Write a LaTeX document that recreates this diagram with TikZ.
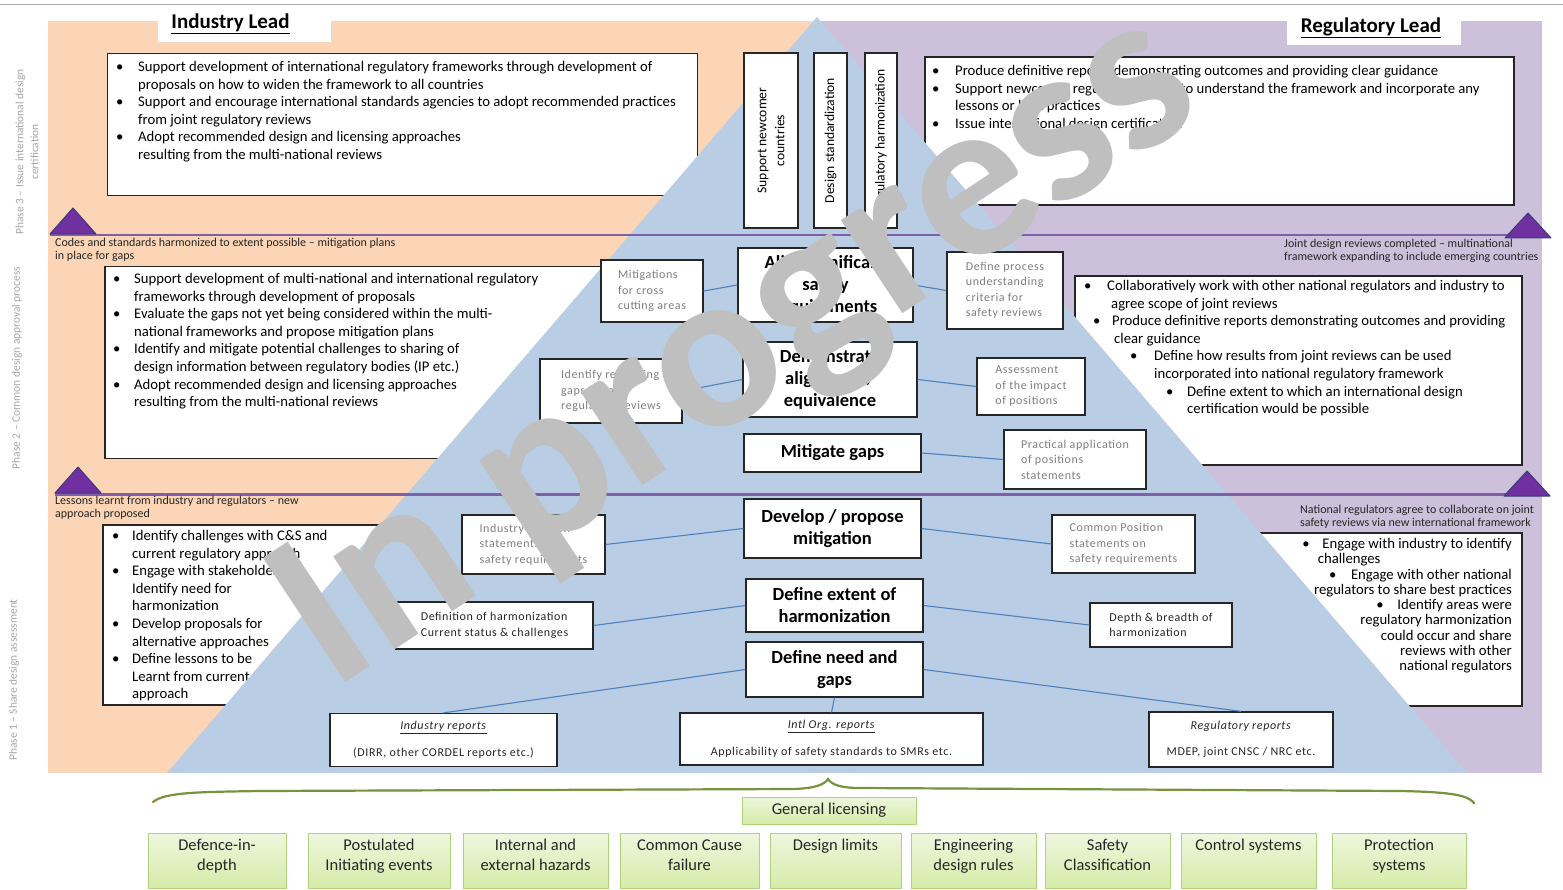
\documentclass[tikz,border=0pt]{standalone}
\usepackage{fontspec}
\setmainfont{Carlito}
\newfontfamily\spacedfont{Carlito}[LetterSpace=5.0]

\definecolor{orangebg}{HTML}{FBD5B5}
\definecolor{purplebg}{HTML}{CCC0DA}
\definecolor{bluetri}{HTML}{B9CDE5}
\definecolor{sepline}{HTML}{7F5FAA}
\definecolor{marker}{HTML}{7030A0}
\definecolor{markeredge}{HTML}{3B3B7A}
\definecolor{linkblue}{HTML}{4F81BD}
\definecolor{greenbrace}{HTML}{77933C}
\definecolor{greentop}{HTML}{EEF6DD}
\definecolor{greenbot}{HTML}{D5EBA8}
\definecolor{greenedge}{HTML}{AFD27C}
\definecolor{graytext}{HTML}{7F7F7F}
\definecolor{darktext}{HTML}{262626}
\definecolor{phasegray}{HTML}{A6A6A6}
\definecolor{wmgray}{HTML}{BFBFBF}

% bullet with fixed hanging width, and plain indent
\newcommand\blt[1][21pt]{\makebox[#1][l]{\textbullet}}
\newcommand\idt[1][21pt]{\hspace*{#1}}

\newcommand\bodysize{\fontsize{14.7}{17.6}\selectfont}
\newcommand\labelsize{\fontsize{18.5}{22}\selectfont\bfseries}
\newcommand\notesize{\spacedfont\fontsize{12}{15.5}\selectfont}
\newcommand\annosize{\fontsize{12}{13}\selectfont}
\newcommand\greensize{\fontsize{16.5}{20}\selectfont}
\newcommand\phasesize{\fontsize{11.4}{15}\selectfont}
\newcommand\headsize{\fontsize{21}{24}\selectfont\bfseries}
\newcommand\vertsize{\fontsize{13.6}{18}\selectfont}
\newcommand\wmsize{\fontsize{230}{240}\selectfont\bfseries}

\begin{document}
\begin{tikzpicture}[x=1pt,y=-1pt,
  bigbox/.style={draw=black!85, line width=1.4pt, fill=white, inner sep=0pt},
  midbox/.style={draw=black!85, line width=1.4pt, fill=white, inner sep=2pt, align=center, font=\labelsize},
  notebox/.style={draw=black!85, line width=1.3pt, fill=white, inner sep=2pt, align=left, font=\notesize, text=graytext},
  darknote/.style={notebox, text=darktext},
  reportbox/.style={draw=black!85, line width=1.3pt, fill=white, inner sep=2pt, align=center, font=\notesize, text=darktext},
  vertbox/.style={draw=black!85, line width=1.3pt, fill=white, inner sep=2pt, align=center, font=\vertsize, rotate=90},
  link/.style={draw=linkblue, line width=1.1pt},
  greenbox/.style={draw=greenedge, line width=1pt, top color=greentop, bottom color=greenbot, inner sep=0pt},
  bodytext/.style={anchor=base west, inner sep=0pt, font=\bodysize, text=black},
  annot/.style={anchor=base west, inner sep=0pt, font=\annosize, text=darktext},
  phase/.style={rotate=90, font=\phasesize, text=phasegray, align=center, inner sep=0pt},
  marktri/.style={fill=marker, draw=markeredge, line width=1pt, line join=round}
]
\useasboundingbox (0,0) rectangle (1563,890);
\fill[white] (0,0) rectangle (1563,890);

% frame line along the top
\draw[gray!65, line width=1.6pt] (0,4.5) -- (1563,4.5);

% lead areas
\fill[orangebg] (48,21) rectangle (817,773);
\fill[purplebg] (817,21) rectangle (1542,773);

% headers
\node[fill=white, minimum width=173pt, minimum height=32pt, inner sep=0pt] (indHeadBox) at (244.5,26) {};
\node[font=\headsize, inner sep=0pt] (indHead) at (230.5,24) {\underline{Industry Lead}};
\node[fill=white, minimum width=174pt, minimum height=35pt, inner sep=0pt] (regHeadBox) at (1374,27.5) {};
\node[font=\headsize, inner sep=0pt] (regHead) at (1371,28) {\underline{Regulatory Lead}};

% phase labels
\node[phase] (ph3) at (27,152) {Phase 3 – Issue international design\\certification};
\node[phase] (ph2) at (17,368) {Phase 2 – Common design approval process};
\node[phase] (ph1) at (14,680) {Phase 1 – Share design assessment};

% ---------- phase 3 lists ----------
\node[bigbox, minimum width=590pt, minimum height=142pt] (p3L) at (402.5,124.5) {};
\node[bodytext] (p3Ltext) at (116,71.5) {\begin{tabular}[t]{@{}l@{}}
\blt[22pt]Support development of international regulatory frameworks through development of\\
\idt[22pt]proposals on how to widen the framework to all countries\\
\blt[22pt]Support and encourage international standards agencies to adopt recommended practices\\
\idt[22pt]from joint regulatory reviews\\
\blt[22pt]Adopt recommended design and licensing approaches\\
\idt[22pt]resulting from the multi-national reviews
\end{tabular}};

\node[bigbox, minimum width=589pt, minimum height=148pt] (p3R) at (1219.5,131) {};
\node[bodytext] (p3Rtext) at (932,75.5) {\begin{tabular}[t]{@{}l@{}}
\blt[23pt]Produce definitive reports demonstrating outcomes and providing clear guidance\\
\blt[23pt]Support newcomer regulatory bodies to understand the framework and incorporate any\\
\idt[23pt]lessons or best practices\\
\blt[23pt]Issue international design certification
\end{tabular}};

% ---------- phase 2 lists ----------
\node[bigbox, minimum width=500pt, minimum height=192pt] (p2L) at (355,362.5) {};
\node[bodytext] (p2Ltext) at (113,283.5) {\begin{tabular}[t]{@{}l@{}}
\blt[21pt]Support development of multi-national and international regulatory\\
\idt[21pt]frameworks through development of proposals\\
\blt[21pt]Evaluate the gaps not yet being considered within the multi-\\
\idt[21pt]national frameworks and propose mitigation plans\\
\blt[21pt]Identify and mitigate potential challenges to sharing of\\
\idt[21pt]design information between regulatory bodies (IP etc.)\\
\blt[21pt]Adopt recommended design and licensing approaches\\
\idt[21pt]resulting from the multi-national reviews
\end{tabular}};

\node[bigbox, minimum width=447pt, minimum height=189pt] (p2R) at (1298.5,370.5) {};
\node[bodytext] (p2Rtext) at (1084,290.5) {\begin{tabular}[t]{@{}l@{}}
\blt[23pt]Collaboratively work with other national regulators and industry to\\
\idt[27pt]agree scope of joint reviews\\
\idt[9pt]\blt[19pt]Produce definitive reports demonstrating outcomes and providing\\
\idt[30pt]clear guidance\\
\idt[46pt]\blt[24pt]Define how results from joint reviews can be used\\
\idt[70pt]incorporated into national regulatory framework\\
\idt[82pt]\blt[21pt]Define extent to which an international design\\
\idt[103pt]certification would be possible
\end{tabular}};

% ---------- phase 1 lists ----------
\node[bigbox, minimum width=317pt, minimum height=180pt] (p1L) at (261.5,615) {};
\node[bodytext] (p1Ltext) at (112,540.5) {\begin{tabular}[t]{@{}l@{}}
\blt[20pt]Identify challenges with C\&S and\\
\idt[20pt]current regulatory approach\\
\blt[20pt]Engage with stakeholders to\\
\idt[20pt]Identify need for\\
\idt[20pt]harmonization\\
\blt[20pt]Develop proposals for\\
\idt[20pt]alternative approaches\\
\blt[20pt]Define lessons to be\\
\idt[20pt]Learnt from current\\
\idt[20pt]approach
\end{tabular}};

\node[bigbox, minimum width=282pt, minimum height=173pt] (p1R) at (1381,619.5) {};
\node[bodytext, anchor=base east, font=\fontsize{14.7}{15.25}\selectfont] (p1Rtext) at (1512,548.5) {\begin{tabular}[t]{@{}r@{}}
\blt[20pt]Engage with industry to identify\\
\makebox[194pt][l]{challenges}\\
\blt[22pt]Engage with other national\\
regulators to share best practices\\
\blt[21pt]Identify areas were\\
regulatory harmonization\\
could occur and share\\
reviews with other\\
national regulators
\end{tabular}};

% ---------- pyramid ----------
\fill[bluetri] (817,17) -- (1467,773) -- (167,773) -- cycle;

% phase separators and milestone markers
\draw[sepline, line width=2.4pt] (50,235) -- (1540,235);
\draw[sepline, line width=2.4pt] (55,494.5) -- (1540,494.5);
\filldraw[marktri] (73,208) -- (96,234) -- (50,234) -- cycle;
\filldraw[marktri] (1528,213) -- (1551,238) -- (1505,238) -- cycle;
\filldraw[marktri] (78,467) -- (101,493) -- (55,493) -- cycle;
\filldraw[marktri] (1527,471) -- (1550,496) -- (1504,496) -- cycle;

% milestone notes
\node[annot] (noteP2L) at (55,247) {\begin{tabular}[t]{@{}l@{}}Codes and standards harmonized to extent possible – mitigation plans\\in place for gaps\end{tabular}};
\node[annot] (noteP2R) at (1284,248) {\begin{tabular}[t]{@{}l@{}}Joint design reviews completed – multinational\\framework expanding to include emerging countries\end{tabular}};
\node[annot] (noteP1L) at (55,504) {\begin{tabular}[t]{@{}l@{}}Lessons learnt from industry and regulators – new\\approach proposed\end{tabular}};
\node[annot] (noteP1R) at (1300,513) {\begin{tabular}[t]{@{}l@{}}National regulators agree to collaborate on joint\\safety reviews via new international framework\end{tabular}};

% ---------- top columns ----------
\node[vertbox, minimum width=175pt, minimum height=54pt] (vSupport) at (771,140.5) {Support newcomer\\countries};
\node[vertbox, minimum width=175pt, minimum height=33pt] (vDesign) at (830.5,140.5) {Design standardization};
\node[vertbox, minimum width=175pt, minimum height=32pt] (vReg) at (881,140.5) {Regulatory harmonization};

% ---------- phase 2 steps ----------
\node[midbox, minimum width=175pt, minimum height=74pt] (align) at (825.5,285) {Align significant\\safety\\requirements};
\node[midbox, minimum width=174pt, minimum height=75pt] (demo) at (830,379.5) {Demonstrate\\alignment /\\equivalence};
\node[midbox, minimum width=177pt, minimum height=38pt] (mitgaps) at (832.5,453) {Mitigate gaps};

\node[notebox, minimum width=102pt, minimum height=62pt] (mitcross) at (652,291) {Mitigations\\for cross\\cutting areas};
\node[notebox, minimum width=116pt, minimum height=77pt] (defproc) at (1005,290.5) {Define process\\understanding\\criteria for\\safety reviews};
\node[notebox, minimum width=142pt, minimum height=64pt] (identrem) at (611,391) {Identify remaining\\gaps from\\regulatory reviews};
\node[notebox, minimum width=108pt, minimum height=57pt] (assess) at (1031,386.5) {Assessment\\of the impact\\of positions};
\node[notebox, minimum width=142pt, minimum height=59pt] (practical) at (1075,459.5) {Practical application\\of positions\\statements};

% ---------- phase 1 steps ----------
\node[midbox, minimum width=177pt, minimum height=59pt] (develop) at (832.5,528.5) {Develop / propose\\mitigation};
\node[midbox, minimum width=177pt, minimum height=53pt] (extent) at (834.5,605.5) {Define extent of\\harmonization};
\node[midbox, minimum width=177pt, minimum height=55pt] (need) at (834.5,669.5) {Define need and\\gaps};

\node[notebox, minimum width=143pt, minimum height=59pt] (indpos) at (533.5,544.5) {Industry Position\\statements on\\safety requirements};
\node[notebox, minimum width=143pt, minimum height=58pt] (compos) at (1123.5,544) {Common Position\\statements on\\safety requirements};
\node[darknote, minimum width=197pt, minimum height=47pt] (definition) at (494.5,625.5) {Definition of harmonization\\Current status \& challenges};
\node[darknote, minimum width=142pt, minimum height=44pt] (depth) at (1161,625) {Depth \& breadth of\\harmonization};

\node[reportbox, minimum width=227pt, minimum height=53pt] (indrep) at (443.5,740) {\underline{\textit{Industry reports}}\\[11pt](DIRR, other CORDEL reports etc.)};
\node[reportbox, minimum width=303pt, minimum height=52pt] (intlrep) at (831.5,739) {\underline{\textit{Intl Org. reports}}\\[11pt]Applicability of safety standards to SMRs etc.};
\node[reportbox, minimum width=184pt, minimum height=55pt] (regrep) at (1241,739.5) {\textit{Regulatory reports}\\[11pt]MDEP, joint CNSC / NRC etc.};

% connectors
\draw[link] (mitcross.east) -- (align.west);
\draw[link] (align.east) -- (defproc.west);
\draw[link] (identrem.east) -- (demo.west);
\draw[link] (demo.east) -- (assess.west);
\draw[link] (mitgaps.east) -- (practical.west);
\draw[link] (indpos.east) -- (develop.west);
\draw[link] (develop.east) -- (compos.west);
\draw[link] (definition.east) -- (extent.west);
\draw[link] (extent.east) -- (depth.west);
\draw[link] (need.west) -- (indrep.north);
\draw[link] (need.east) -- (regrep.north);
\draw[link] (need.south) -- (intlrep.north);

% ---------- general licensing topics ----------
\draw[greenbrace, line width=2.2pt, line cap=round]
  (153,802) .. controls (165,792) and (200,792) .. (260,791)
  -- (795,789) .. controls (815,788) and (824,785) .. (828,779)
  .. controls (832,785) and (841,788) .. (861,788)
  -- (1400,791) .. controls (1450,792) and (1468,795) .. (1474,803);

\node[greenbox, minimum width=174pt, minimum height=27pt] (genlic) at (829,810.5) {};
\node[font=\greensize, text=darktext, inner sep=0pt] (genlictext) at (genlic) {General licensing};

\foreach \nm/\cx/\w/\txt in {
  gDefence/217/138/{Defence-in-\\depth},
  gPie/379/142/{Postulated\\Initiating events},
  gHaz/535.5/145/{Internal and\\external hazards},
  gCcf/689.5/139/{Common Cause\\failure},
  gLim/835.5/131/{Design limits},
  gEng/973.5/125/{Engineering\\design rules},
  gCls/1107.5/125/{Safety\\Classification},
  gCtl/1248.5/135/{Control systems},
  gPro/1399/134/{Protection\\systems}}{
  \node[greenbox, minimum width=\w pt, minimum height=55pt] (\nm) at (\cx,861) {};
  \node[anchor=base, inner sep=0pt, font=\greensize, text=darktext] (\nm text) at (\cx,850.5)
    {\begin{tabular}[t]{@{}c@{}}\txt\end{tabular}};
}

% ---------- status stamp ----------
\node[rotate=33.5, anchor=base, inner sep=0pt, font=\wmsize, text=wmgray] (stamp) at (770,402) {In progress};

\end{tikzpicture}
\end{document}
